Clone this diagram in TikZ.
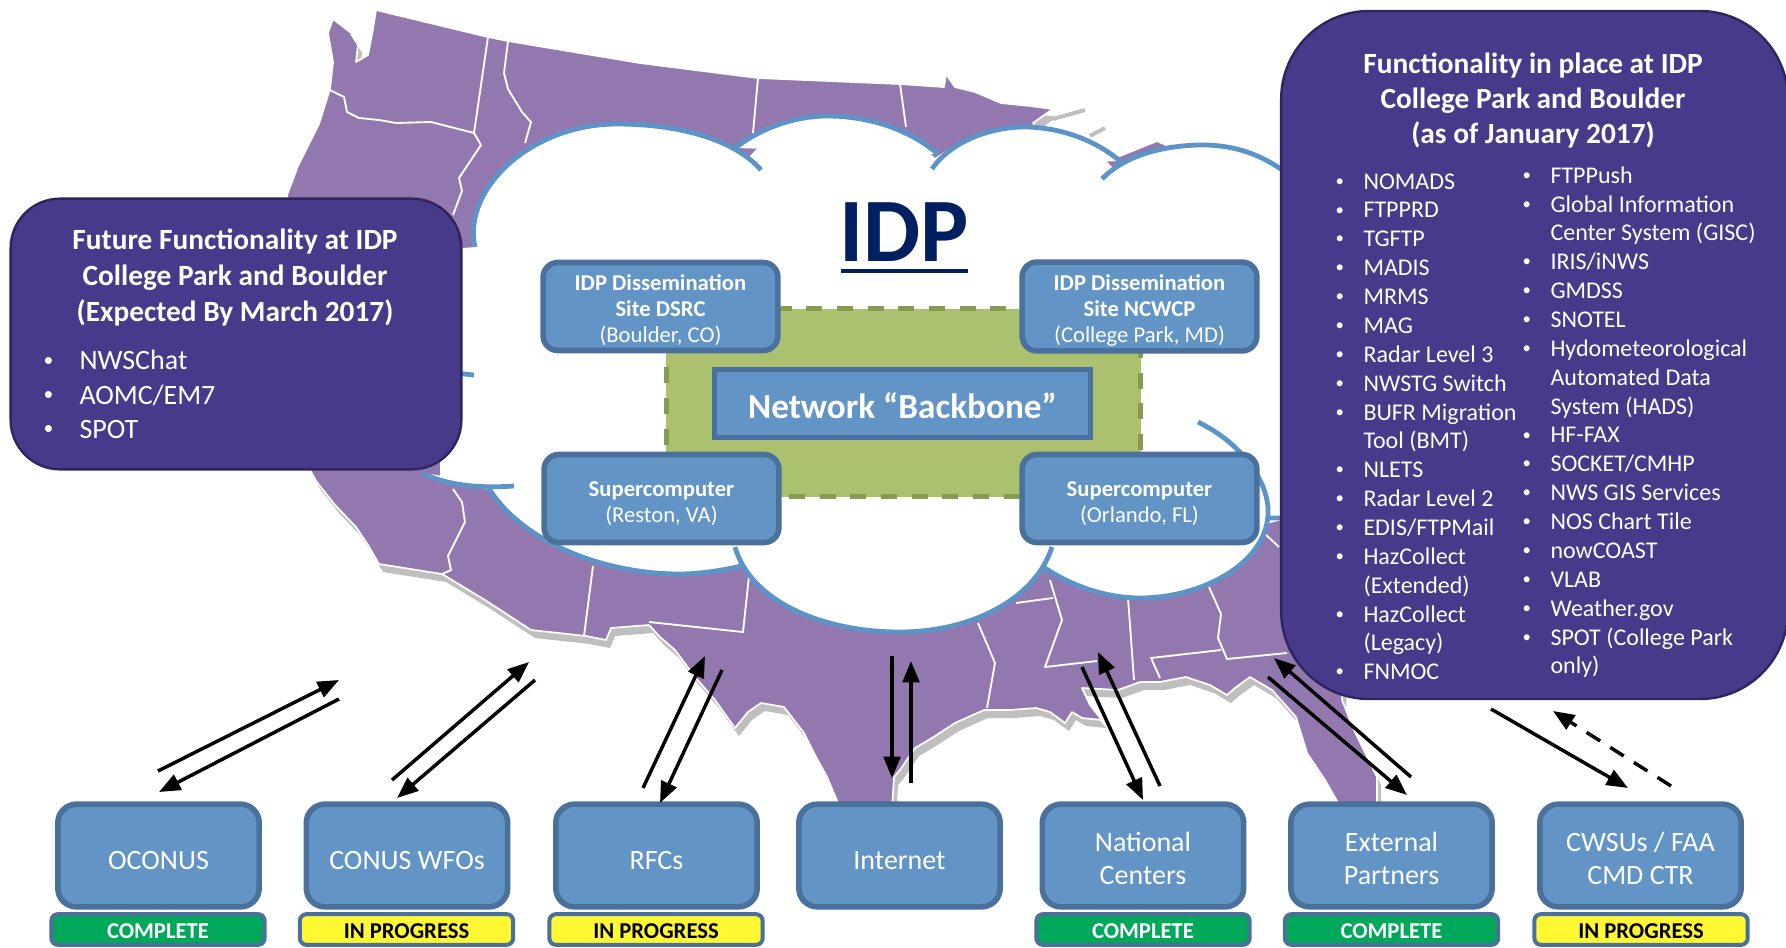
\documentclass[tikz,border=0pt]{standalone}
\usepackage{fontspec}
\setmainfont{Carlito}
\usepackage{tikz}
\usetikzlibrary{arrows.meta}
\definecolor{mapfill}{RGB}{146,120,174}
\definecolor{boxblue}{RGB}{98,149,197}
\definecolor{boxedge}{RGB}{74,112,156}
\definecolor{cloudblue}{RGB}{92,148,200}
\definecolor{platefill}{RGB}{172,193,112}
\definecolor{plateedge}{RGB}{134,155,80}
\definecolor{panelfill}{RGB}{72,58,138}
\definecolor{paneledge}{RGB}{46,37,96}
\definecolor{donegreen}{RGB}{0,168,89}
\definecolor{busyyellow}{RGB}{255,248,50}
\definecolor{idpnavy}{RGB}{0,32,96}
\newcommand{\usoutline}{(376,10) -- (488,37) -- (508,41) -- (640,63) -- (758,78) -- (900,84) -- (944,87) -- (946,74) -- (955,87) -- (975,92) -- (1001,103) -- (1030,106) -- (1053,109) -- (1033,123) -- (1050,150) -- (1120,156) -- (1157,141) -- (1168,146) -- (1172,170) -- (1300,180) -- (1400,400) -- (1345,640) -- (1342,700) -- (1354,730) -- (1377,777) -- (1377,810) -- (1342,810) -- (1325,780) -- (1307,753) -- (1296,717) -- (1272,690) -- (1250,677) -- (1235,688) -- (1227,695) -- (1210,685) -- (1186,677) -- (1160,682) -- (1140,682) -- (1118,690) -- (1082,688) -- (1090,705) -- (1102,720) -- (1082,718) -- (1072,712) -- (1065,723) -- (1050,712) -- (1036,708) -- (1010,710) -- (984,710) -- (955,723) -- (932,738) -- (915,748) -- (900,770) -- (894,777) -- (892,810) -- (841,810) -- (827,777) -- (815,755) -- (804,733) -- (784,707) -- (761,703) -- (748,712) -- (735,728) -- (715,700) -- (695,677) -- (675,650) -- (660,637) -- (649,625) -- (611,628) -- (606,640) -- (586,636) -- (531,630) -- (485,600) -- (442,574) -- (379,564) -- (368,545) -- (356,527) -- (335,505) -- (316,481) -- (310,470) -- (300,300) -- (287,195) -- (298,166) -- (319,124) -- (330,89) -- (333,62) -- (328,33) -- (333,19) -- (350,32) -- (358,45) -- (356,62) -- (368,55) -- (373,29) -- cycle}
\newcommand{\cloudlobes}{(475,247) .. controls (462,190) and (530,124) .. (617,124) .. controls (680,124) and (735,140) .. (761,170)
  (735,148) .. controls (765,125) and (800,116) .. (827,116) .. controls (870,116) and (910,130) .. (938,154)
  (932,169) .. controls (950,142) and (990,127) .. (1024,127) .. controls (1060,127) and (1095,140) .. (1120,161)
  (1102,179) .. controls (1125,155) and (1165,145) .. (1203,145) .. controls (1235,145) and (1262,155) .. (1285,172)
  (1198,422) .. controls (1245,445) and (1270,485) .. (1268,515) .. controls (1265,565) and (1200,598) .. (1140,598) .. controls (1105,598) and (1070,585) .. (1045,568)
  (1052,547) .. controls (1035,600) and (970,632) .. (900,632) .. controls (820,632) and (750,600) .. (735,547)
  (488,487) .. controls (520,540) and (600,574) .. (680,574) .. controls (700,574) and (725,570) .. (741,566)
  (422,473) .. controls (450,487) and (485,488) .. (514,486)}
\newcommand{\itm}[1][21pt]{\makebox[#1][l]{\raisebox{0.12em}{\scalebox{0.7}{•}}}}
\tikzset{every picture/.style={line width=0.75pt},
  nudge/.style={execute at begin node={\rule{0pt}{#1}}},
  mapshadow/.style={fill=black!25},
  stateline/.style={draw=white,line width=1.4pt},
  cloudline/.style={draw=cloudblue,line width=3.6pt},
  bluebox/.style={draw=boxedge,fill=boxblue,line width=4.2pt,rounded corners=14pt,text=white,align=center,font=\fontsize{21}{25}\selectfont},
  sitebox/.style={bluebox,minimum width=176pt,minimum height=66pt,rounded corners=11pt,font=\fontsize{17}{19.7}\selectfont},
  groupbox/.style={bluebox,minimum width=151pt,minimum height=77pt,nudge=21pt},
  donetag/.style={draw=boxedge,fill=donegreen,line width=3pt,rounded corners=5pt,minimum width=160pt,minimum height=23pt,inner sep=0pt,text=white,align=center,font=\fontsize{17}{19}\bfseries\selectfont,nudge=14pt},
  busytag/.style={donetag,fill=busyyellow,text=black},
  panel/.style={draw=paneledge,fill=panelfill,line width=1.8pt},
  paneltext/.style={text=white,inner sep=0pt,align=left},
  link/.style={draw=black,line width=2.6pt,-{Stealth[inset=0pt,length=16pt,width=12.5pt]}}
}
\begin{document}
\begin{tikzpicture}[x=0.75pt,y=0.75pt,yscale=-1,xscale=1]
\useasboundingbox (0,0) rectangle (1786,947);
\fill[white] (0,0) rectangle (1786,947);

%Map of the states
\fill[mapshadow,shift={(4,8)}] \usoutline;
\fill[mapfill] \usoutline;
\draw[white,line width=1.3pt,line join=round] \usoutline;
%gray bits of the lake shore
\draw[black!25,line width=3pt] (1053,119) -- (1085,110);
\draw[black!25,line width=3pt] (1090,136) -- (1105,128);
%State lines
\draw[stateline] (328,89) -- (344,97) -- (347,112) -- (359,118) -- (379,120) -- (396,123) -- (431,122) -- (474,133);
\draw[stateline] (488,37) -- (474,133) -- (481,145) -- (459,178) -- (462,191) -- (453,215);
\draw[stateline] (508,41) -- (504,73) -- (508,89) -- (522,112) -- (531,122) -- (525,143);
\draw[stateline] (758,78) -- (753,133);
\draw[stateline] (900,84) -- (906,127);
\draw[stateline] (453,489) -- (462,502) -- (465,522) -- (448,556) -- (451,570) -- (442,574);
\draw[stateline] (593,566) -- (584,636);
\draw[stateline] (749,576) -- (743,632) -- (649,622);
\draw[stateline] (1016,603) -- (1053,598);
\draw[stateline] (1050,580) -- (1062,620) -- (1045,667) -- (1097,661);
\draw[stateline] (978,623) -- (995,663) -- (987,708);
\draw[stateline] (1128,598) -- (1134,680);
\draw[stateline] (1209,587) -- (1221,614) -- (1218,638) -- (1227,659) -- (1287,653);
\draw[stateline] (1160,678) -- (1151,658) -- (1221,650);
\draw[stateline] (1264,533) -- (1279,547);

%Cloud
\fill[white] (440,250) -- (475,247) -- (540,160) -- (735,152) -- (748,158) -- (770,135) -- (910,135) -- (935,158) -- (950,148) -- (1095,150) -- (1113,168) -- (1130,162) -- (1280,172) -- (1290,518) -- (1262,525) -- (1045,570) -- (1040,560) -- (741,566) -- (510,505) -- (488,490) -- (440,478) -- cycle;
\fill[white] \cloudlobes;
\draw[cloudline] \cloudlobes (455,373) -- (474,375) (1290,518) -- (1268,518);

% Title
\node[inner sep=0pt,text=idpnavy,font=\fontsize{68}{72}\bfseries\selectfont] (title) at (904,232) {IDP};
\draw[idpnavy,line width=3pt] (841,271) -- (968,271);

%Network plate and sites
\node[draw=plateedge,fill=platefill,line width=3.8pt,dash pattern=on 12pt off 11pt,minimum width=356pt,minimum height=141pt,inner sep=0pt] (plate) at (903.5,402.5) {};
\node[draw=boxedge,fill=boxblue,line width=3.8pt,minimum width=282pt,minimum height=51pt,inner sep=0pt,text=white,align=center,font=\fontsize{26.4}{30}\bfseries\selectfont,nudge=22.5pt] (backbone) at (902.5,403.5) {Network “Backbone”};
\node[sitebox,nudge=57pt] (dsrc) at (660.5,306.5) {\textbf{IDP Dissemination}\\\textbf{Site DSRC}\\(Boulder, CO)};
\node[sitebox,nudge=57pt] (ncwcp) at (1139.5,306.5) {\textbf{IDP Dissemination}\\\textbf{Site NCWCP}\\(College Park, MD)};
\node[sitebox,nudge=38.5pt] (reston) at (661.5,498.5) {\textbf{Supercomputer}\\(Reston, VA)};
\node[sitebox,nudge=38.5pt] (orlando) at (1139.5,498.5) {\textbf{Supercomputer}\\(Orlando, FL)};

%Left panel
\node[panel,rounded corners=37pt,minimum width=338pt,minimum height=203pt] (future) at (236,334) {};
\node[paneltext,align=center,font=\fontsize{22}{27}\bfseries\selectfont] (futuretitle) at (235,277) {Future Functionality at IDP\\College Park and Boulder\\(Expected By March 2017)};
\node[paneltext,anchor=north west,font=\fontsize{21}{25.6}\selectfont] (futurelist) at (43,350) {\itm[27pt]NWSChat\\\itm[27pt]AOMC/EM7\\\itm[27pt]SPOT};

%Right panel
\node[panel,rounded corners=66pt,minimum width=380pt,minimum height=516pt] (current) at (1534.5,355) {};
\node[paneltext,align=center,font=\fontsize{22}{26}\bfseries\selectfont] (currenttitle) at (1533,100.5) {Functionality in place at IDP\\College Park and Boulder\\(as of January 2017)};
\node[paneltext,anchor=north west,font=\fontsize{18}{21.65}\selectfont] (listone) at (1335,173) {\itm NOMADS\\\itm FTPPRD\\\itm TGFTP\\\itm MADIS\\\itm MRMS\\\itm MAG\\\itm Radar Level 3\\\itm NWSTG Switch\\\itm BUFR Migration\\\hspace*{21pt}Tool (BMT)\\\itm NLETS\\\itm Radar Level 2\\\itm EDIS/FTPMail\\\itm HazCollect\\\hspace*{21pt}(Extended)\\\itm HazCollect\\\hspace*{21pt}(Legacy)\\\itm FNMOC};
\node[paneltext,anchor=north west,font=\fontsize{18}{21.65}\selectfont] (listtwo) at (1522,166) {\itm FTPPush\\\itm Global Information\\\hspace*{21pt}Center System (GISC)\\\itm IRIS/iNWS\\\itm GMDSS\\\itm SNOTEL\\\itm Hydometeorological\\\hspace*{21pt}Automated Data\\\hspace*{21pt}System (HADS)\\\itm HF-FAX\\\itm SOCKET/CMHP\\\itm NWS GIS Services\\\itm NOS Chart Tile\\\itm nowCOAST\\\itm VLAB\\\itm Weather.gov\\\itm SPOT (College Park\\\hspace*{21pt}only)};

%Bottom row
\node[groupbox] (oconus) at (158.5,855.5) {OCONUS};
\node[groupbox] (wfos) at (407,855.5) {CONUS WFOs};
\node[groupbox] (rfcs) at (656.5,855.5) {RFCs};
\node[groupbox] (internet) at (899.5,855.5) {Internet};
\node[groupbox,nudge=44pt] (centers) at (1143,855.5) {National\\Centers};
\node[groupbox,nudge=44pt] (partners) at (1391.5,855.5) {External\\Partners};
\node[groupbox,nudge=44pt] (cwsus) at (1640.5,855.5) {CWSUs / FAA\\CMD CTR};

\node[donetag] (oconustag) at (158,929.5) {COMPLETE};
\node[busytag] (wfostag) at (406.5,929.5) {IN PROGRESS};
\node[busytag] (rfcstag) at (656,929.5) {IN PROGRESS};
\node[donetag] (centerstag) at (1143,929.5) {COMPLETE};
\node[donetag] (partnerstag) at (1391.5,929.5) {COMPLETE};
\node[busytag] (cwsustag) at (1641,929.5) {IN PROGRESS};

%Arrow ends
\coordinate (oconusup) at (158,771);
\coordinate (oconusupend) at (339,680);
\coordinate (oconusdown) at (339,699);
\coordinate (oconusdownend) at (159,792);
\coordinate (wfosup) at (392,780);
\coordinate (wfosupend) at (529,662);
\coordinate (wfosdown) at (535,680);
\coordinate (wfosdownend) at (397,798);
\coordinate (rfcsup) at (643,788);
\coordinate (rfcsupend) at (705,656);
\coordinate (rfcsdown) at (722,670);
\coordinate (rfcsdownend) at (660,803);
\coordinate (internetdown) at (892,656);
\coordinate (internetdownend) at (892,778);
\coordinate (internetup) at (911,783);
\coordinate (internetupend) at (911,661);
\coordinate (centersdown) at (1082,667);
\coordinate (centersdownend) at (1143,800);
\coordinate (centersup) at (1160,786);
\coordinate (centersupend) at (1098,652);
\coordinate (partnersup) at (1411,777);
\coordinate (partnersupend) at (1274,658);
\coordinate (partnersdown) at (1268,677);
\coordinate (partnersdownend) at (1407,795);
\coordinate (cwsusdown) at (1491,709);
\coordinate (cwsusdownend) at (1628,788);
\coordinate (cwsusup) at (1671,786);
\coordinate (cwsusupend) at (1553,711);

\draw[link] (oconusup) -- (oconusupend);
\draw[link] (oconusdown) -- (oconusdownend);
\draw[link] (wfosup) -- (wfosupend);
\draw[link] (wfosdown) -- (wfosdownend);
\draw[link] (rfcsup) -- (rfcsupend);
\draw[link] (rfcsdown) -- (rfcsdownend);
\draw[link] (internetdown) -- (internetdownend);
\draw[link] (internetup) -- (internetupend);
\draw[link] (centersdown) -- (centersdownend);
\draw[link] (centersup) -- (centersupend);
\draw[link] (partnersup) -- (partnersupend);
\draw[link] (partnersdown) -- (partnersdownend);
\draw[link] (cwsusdown) -- (cwsusdownend);
\draw[link,dash pattern=on 12pt off 9pt] (cwsusup) -- (cwsusupend);

\end{tikzpicture}
\end{document}
